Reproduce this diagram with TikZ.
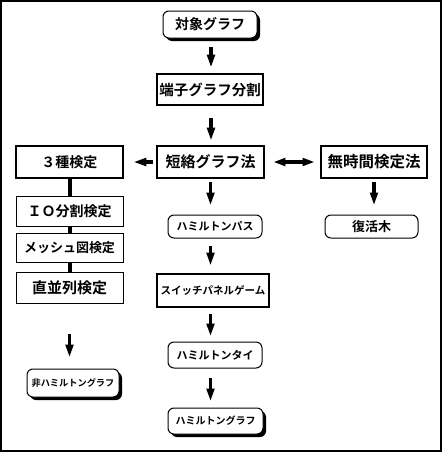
\documentclass[tikz,border=0pt]{standalone}
\usepackage{fontspec}
\setmainfont{Noto Sans CJK JP}[BoldFont={Noto Sans CJK JP Bold}]
\usetikzlibrary{arrows.meta,shadows}
\tikzset{
  base/.style={draw=black, fill=white, inner sep=0pt, align=center, font=\bfseries},
  thickbox/.style={base, line width=2.6pt},
  thinbox/.style={base, line width=1pt},
  roundbox/.style={base, line width=1pt, rounded corners=6pt},
  shadowbox/.style={roundbox, drop shadow={opacity=1, fill=black, shadow xshift=3pt, shadow yshift=-3pt}},
  arr/.style={line width=3.6pt, -{Triangle[length=13pt,width=7.5pt]}},
  darr/.style={line width=3.6pt, {Triangle[length=12pt,width=7.5pt]}-{Triangle[length=12pt,width=7.5pt]}},
  link/.style={line width=4pt},
}
\begin{document}
\begin{tikzpicture}[x=1pt,y=-1pt]
\useasboundingbox (0,0) rectangle (442,453);
\draw[line width=1.5pt] (1,1) rectangle (441,451);

\node[shadowbox, minimum width=94pt, minimum height=27pt, font=\bfseries\fontsize{14}{14}\selectfont] (obj) at (210,24.5) {対象グラフ};
\node[thickbox, minimum width=106pt, minimum height=31pt, font=\bfseries\fontsize{14.5}{14.5}\selectfont] (term) at (210,89.5) {端子グラフ分割};

\node[thickbox, minimum width=107pt, minimum height=32pt, font=\bfseries\fontsize{14}{14}\selectfont] (sanshu) at (69.5,162) {３種検定};
\node[thickbox, minimum width=107pt, minimum height=32pt, font=\bfseries\fontsize{15}{15}\selectfont] (short) at (210.5,162) {短絡グラフ法};
\node[thickbox, minimum width=106pt, minimum height=32pt, font=\bfseries\fontsize{15.5}{15.5}\selectfont] (mujikan) at (374,162) {無時間検定法};

\node[thinbox, minimum width=107pt, minimum height=30pt, font=\bfseries\fontsize{14}{14}\selectfont] (io) at (69.5,211) {ＩＯ分割検定};
\node[thinbox, minimum width=107pt, minimum height=29pt, font=\bfseries\fontsize{13}{13}\selectfont] (mesh) at (69.5,247.5) {メッシュ図検定};
\node[thinbox, minimum width=107pt, minimum height=31pt, font=\bfseries\fontsize{15}{15}\selectfont] (choku) at (69.5,287.5) {直並列検定};

\node[roundbox, minimum width=94pt, minimum height=23pt, font=\bfseries\fontsize{11}{11}\selectfont] (hpath) at (215,226.5) {ハミルトンパス};
\node[thickbox, minimum width=112pt, minimum height=33pt, font=\bfseries\fontsize{10.5}{10.5}\selectfont] (switch) at (213,290.5) {スイッチパネルゲーム};
\node[roundbox, minimum width=94pt, minimum height=26pt, font=\bfseries\fontsize{11}{11}\selectfont] (tie) at (215,355) {ハミルトンタイ};
\node[shadowbox, minimum width=95pt, minimum height=26pt, font=\bfseries\fontsize{10}{10}\selectfont] (hg) at (215.5,421) {ハミルトングラフ};

\node[roundbox, minimum width=93pt, minimum height=23pt, font=\bfseries\fontsize{13}{13}\selectfont] (fukkatsu) at (371.5,226.5) {復活木};
\node[shadowbox, minimum width=92pt, minimum height=28pt, font=\bfseries\fontsize{9.2}{9.2}\selectfont] (nonham) at (73,383) {非ハミルトングラフ};

% connectors
\draw[arr, shorten <=8pt, shorten >=5pt] ([xshift=1pt]obj.south) -- ([xshift=1pt]obj.south |- term.north);
\draw[arr, shorten <=12pt, shorten >=4pt] ([xshift=1pt]term.south) -- ([xshift=1pt]term.south |- short.north);
\draw[arr, shorten <=3pt, shorten >=9pt] (short.south) -- (short.south |- hpath.north);
\draw[arr, shorten <=7pt, shorten >=7pt] (short.south |- hpath.south) -- (short.south |- switch.north);
\draw[arr, shorten <=6pt, shorten >=5pt] (short.south |- switch.south) -- (short.south |- tie.north);
\draw[arr, shorten <=9pt, shorten >=6pt] (short.south |- tie.south) -- (short.south |- hg.north);
\draw[arr, shorten <=3pt, shorten >=9pt] (mujikan.south) -- (mujikan.south |- fukkatsu.north);
\draw[arr, shorten <=30pt, shorten >=11pt] (choku.south) -- (choku.south |- nonham.north);
\draw[arr, shorten <=3pt, shorten >=9pt] (short.west) -- (sanshu.east);
\draw[darr, shorten <=8pt, shorten >=5pt] (short.east) -- (mujikan.west);

\draw[link] (sanshu.south) -- (io.north);
\draw[link] (io.south) -- (mesh.north);
\draw[link] (mesh.south) -- (choku.north);
\end{tikzpicture}
\end{document}
